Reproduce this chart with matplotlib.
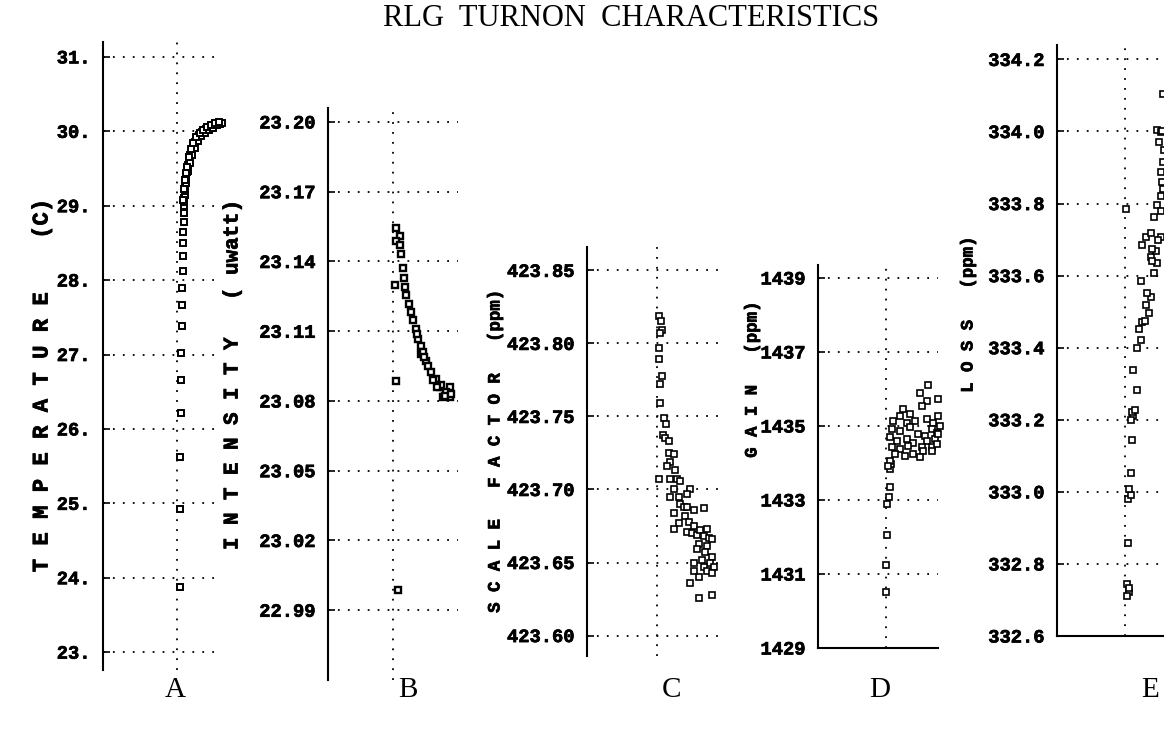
import numpy as np
import matplotlib
matplotlib.use('Agg')
import matplotlib.pyplot as plt
import matplotlib.patheffects as pe

# time axis is unlabeled in the original; values are in arbitrary units with the
# dotted vertical grid line at t = 0

# A - temperature (C)
a_t = [3, 3, 3, 4, 4, 4, 5, 5, 5, 6, 6, 6, 6, 7, 7, 7,
       7, 7, 8, 8, 8, 8, 9, 9, 10, 10, 11, 12, 12, 13, 14, 15, 16, 17, 18, 19,
       20, 22, 23, 25, 27, 29, 31, 33, 35, 37, 39, 41, 43, 45,
       9, 11, 13, 15, 18, 21, 24, 28, 32, 36, 40,
       6, 7, 8, 9, 10, 12, 14, 16, 19, 23, 26, 30, 34, 38, 42]
a_val = [23.87, 24.92, 25.62, 26.22, 26.66, 27.02, 27.38, 27.66, 27.90, 28.12, 28.32, 28.50, 28.65, 28.78, 28.90, 29.00,
         29.05, 29.10, 29.15, 29.20, 29.25, 29.30, 29.35, 29.40, 29.45, 29.50, 29.55, 29.60, 29.64, 29.68, 29.72, 29.76, 29.80, 29.83, 29.86, 29.89,
         29.92, 29.95, 29.97, 29.99, 30.01, 30.03, 30.05, 30.06, 30.07, 30.08, 30.09, 30.10, 30.10, 30.11,
         29.30, 29.46, 29.58, 29.68, 29.78, 29.87, 29.93, 29.98, 30.02, 30.05, 30.08,
         29.08, 29.22, 29.34, 29.44, 29.52, 29.66, 29.76, 29.84, 29.92, 29.98, 30.02, 30.06, 30.09, 30.11, 30.12]
a_ticks = [23, 24, 25, 26, 27, 28, 29, 30, 31]
a_labels = ['23.', '24.', '25.', '26.', '27.', '28.', '29.', '30.', '31.']

# B - intensity (uwatt)
b_t = [3.3, 6.7, 3.3, 6.7, 8.3, 10, 1.7, 11, 11.7, 13.3, 16, 18.3, 20, 22.7, 25, 28.3,
       28.3, 33.3, 35, 38.3, 43.3, 46.7, 56.7, 50, 56.7, 2.7, 5,
       40, 48, 53, 44, 52, 58, 24, 30, 31]
b_val = [23.1545, 23.1508, 23.1490, 23.1472, 23.1432, 23.1371, 23.1299, 23.1328, 23.1290, 23.1255, 23.1219, 23.1183, 23.1147, 23.1108, 23.1067, 23.1038,
         23.1002, 23.0973, 23.0952, 23.0923, 23.0894, 23.0858, 23.0858, 23.0819, 23.0819, 23.0887, 22.9988,
         23.0890, 23.0870, 23.0840, 23.0860, 23.0820, 23.0830, 23.1090, 23.1010, 23.0990]
b_ticks = [22.99, 23.02, 23.05, 23.08, 23.11, 23.14, 23.17, 23.20]

# C - scale factor (ppm)
c_t = [1.7, 4, 5, 2.7, 1.7, 1.7, 5, 3.3, 3.3, 6.7, 9.3, 6, 8.3, 11.7, 1.7,
       11.7, 16.7, 13.3, 10, 18.3, 13.3, 20, 23.3, 16.7, 33.3, 30, 13.3, 21.7, 23.3, 26.7,
       30, 36.7, 46.7, 16.7, 28.3, 31.7, 21.7, 36.7, 16.7, 30, 35, 40, 43.3, 50, 46.7,
       51.7, 55, 41.7, 50, 40, 48.3, 55, 45, 53.3, 36.7, 46.7, 56.7, 50, 55, 36.7,
       41.7, 33.3, 41.7, 55]
c_val = [423.819, 423.815, 423.809, 423.807, 423.797, 423.789, 423.778, 423.772, 423.759, 423.749, 423.745, 423.737, 423.735, 423.733, 423.707,
         423.725, 423.724, 423.719, 423.716, 423.713, 423.707, 423.707, 423.706, 423.700, 423.700, 423.697, 423.695, 423.695, 423.690, 423.688,
         423.688, 423.686, 423.687, 423.684, 423.682, 423.678, 423.677, 423.675, 423.673, 423.671, 423.670, 423.669, 423.672, 423.673, 423.668,
         423.667, 423.666, 423.663, 423.661, 423.659, 423.657, 423.654, 423.652, 423.650, 423.650, 423.647, 423.647, 423.644, 423.643, 423.644,
         423.640, 423.636, 423.626, 423.628]
c_ticks = [423.60, 423.65, 423.70, 423.75, 423.80, 423.85]

# D - gain (ppm)
d_t = [0, 0, 0.7, 0.7, 3, 4, 4, 4.7,
       42.3, 34, 40.7, 52.3, 35.7, 17.3, 24, 14, 7.3, 20.7, 29, 40.7, 47.3, 52.3,
       45.7, 5.7, 14, 24, 32.3, 39, 50.7, 4, 10.7, 20.7, 27.3, 40.7, 49,
       5.7, 14, 22.3, 35.7, 45.7, 50.7, 9, 19, 27.3, 37.3, 45.7, 34, 4, 2.3, 54, 52.3]
d_val = [1430.52, 1431.24, 1432.05, 1432.90, 1433.08, 1433.35, 1433.84, 1433.98,
         1436.12, 1435.90, 1435.67, 1435.72, 1435.54, 1435.45, 1435.31, 1435.27, 1435.13, 1435.09, 1435.13, 1435.18, 1435.09, 1435.27,
         1434.91, 1434.91, 1434.87, 1434.96, 1434.78, 1434.73, 1434.82, 1434.69, 1434.60, 1434.64, 1434.55, 1434.60, 1434.64,
         1434.42, 1434.37, 1434.46, 1434.42, 1434.42, 1434.51, 1434.24, 1434.19, 1434.24, 1434.33, 1434.33, 1434.15, 1434.06, 1433.92, 1435.00, 1434.78]
d_ticks = [1429, 1431, 1433, 1435, 1437, 1439]

# E - loss (ppm)
e_t = [2.3, 4, 2.3, 4.3, 3.3, 3.3, 5.7, 4, 6.3, 7.3, 8.3, 7.3, 6.3, 9.7, 12.3,
       8.3, 12.3, 15.7, 14, 17.3, 19.7, 24, 20.7, 25.7, 22.3, 15.7, 29, 32.3, 25.7,
       30.7, 27.3, 17.3, 20.7, 25.7, 35.7, 29, 0.7, 32.3, 35.7, 37.3, 35.7, 38.3,
       34, 32.3, 35.7, 38.3, 27, 33, 36, 38, 39, 37]
e_val = [332.743, 332.721, 332.710, 332.734, 332.859, 332.980, 332.991, 333.007, 333.051, 333.145, 333.211, 333.222, 333.200, 333.228, 333.283,
         333.338, 333.398, 333.420, 333.453, 333.470, 333.475, 333.497, 333.519, 333.541, 333.553, 333.586, 333.608, 333.635, 333.652,
         333.668, 333.674, 333.685, 333.707, 333.718, 333.707, 333.762, 333.784, 333.795, 333.822, 333.861, 333.888, 333.916,
         333.971, 334.004, 333.998, 334.103, 333.640, 333.700, 333.780, 333.840, 333.950, 334.000]
e_ticks = [332.6, 332.8, 333.0, 333.2, 333.4, 333.6, 333.8, 334.0, 334.2]

W, H = 1164, 731
fig = plt.figure(figsize=(W / 100, H / 100), dpi=100)
fig.patch.set_facecolor('white')

mono = 'Liberation Mono'
serif = 'Liberation Serif'
dots = (0, (1.0, 4.5))
heavy = [pe.withStroke(linewidth=0.5, foreground='black')]


def panel(rect_px, xlim, ylim, ticks, labels, tt, vals, bottom=False, mew=1.2):
    left, top, right, bot = rect_px
    ax = fig.add_axes([left / W, 1 - bot / H, (right - left) / W, (bot - top) / H])
    ax.set_facecolor('none')
    ax.set_xlim(*xlim)
    ax.set_ylim(*ylim)
    for s in ['top', 'right']:
        ax.spines[s].set_visible(False)
    ax.spines['bottom'].set_visible(bottom)
    ax.spines['left'].set_linewidth(1.5)
    ax.spines['bottom'].set_linewidth(1.5)
    ax.set_yticks(ticks)
    ax.set_yticklabels(labels)
    ax.set_xticks([0])
    ax.tick_params(axis='x', length=0, labelbottom=False)
    ax.tick_params(axis='y', direction='in', length=5, width=1.2, pad=9)
    for lab in ax.get_yticklabels():
        lab.set_fontfamily(mono)
        lab.set_fontweight('bold')
        lab.set_fontsize(13.5)
        lab.set_path_effects(heavy)
    ax.grid(True, color='black', linestyle=dots, linewidth=1.3)
    ax.plot(tt, vals, linestyle='none', marker='s', markersize=5,
            markerfacecolor='white', markeredgecolor='black', markeredgewidth=mew,
            clip_on=False, zorder=3)
    return ax


panel((103, 42, 220, 670), (-74, 43), (22.76, 31.2), a_ticks, a_labels, a_t, a_val, mew=1.4)
panel((328, 108, 458, 680), (-65, 65), (22.96, 23.206), b_ticks,
      ['%.2f' % v for v in b_ticks], b_t, b_val, mew=1.7)
panel((587, 247, 722, 656), (-70, 65), (423.586, 423.866), c_ticks,
      ['%.2f' % v for v in c_ticks], c_t, c_val)
panel((818, 265, 938, 648), (-68, 52), (1429, 1439.35), d_ticks,
      ['%d' % v for v in d_ticks], d_t, d_val, bottom=True)
panel((1057, 45, 1200, 636), (-68, 75), (332.6, 334.24), e_ticks,
      ['%.1f' % v for v in e_ticks], e_t, e_val, bottom=True)

# vertical axis titles
ylabs = [('T E M P E R A T U R E    (C)', 42, 385, 16),
         ('I N T E N S I T Y   ( uwatt)', 232, 375, 15),
         ('S C A L E   F A C T O R   (ppm)', 495, 452, 12.5),
         ('G A I N   (ppm)', 752, 380, 12.5),
         ('L O S S   (ppm)', 968, 315, 12.5)]
for txt, x, y, fs in ylabs:
    fig.text(x / W, 1 - y / H, txt, rotation=90, ha='center', va='center',
             fontfamily=mono, fontweight='bold', fontsize=fs, path_effects=heavy)

# panel letters
for letter, x in zip(['A', 'B', 'C', 'D', 'E'], [175, 408, 672, 880, 1150]):
    fig.text(x / W, 1 - 690 / H, letter, ha='center', va='center',
             fontfamily=serif, fontsize=21)

fig.text(631 / W, 1 - 18 / H, 'RLG  TURNON  CHARACTERISTICS', ha='center', va='center',
         fontfamily=serif, fontsize=22)

fig.savefig('out.png', dpi=100)
